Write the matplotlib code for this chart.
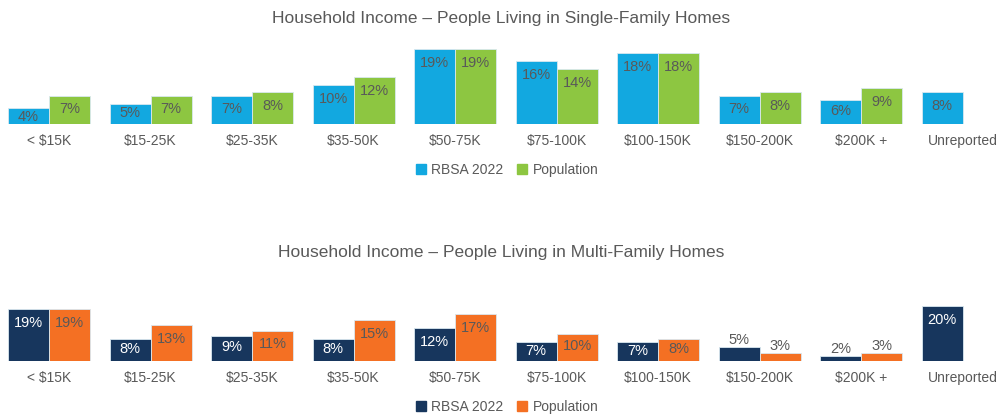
import matplotlib.pyplot as plt
import numpy as np
from matplotlib.patches import Patch

plt.rcParams['font.family'] = ['Liberation Sans', 'DejaVu Sans']

categories = ["< $15K", "$15-25K", "$25-35K", "$35-50K", "$50-75K", "$75-100K",
              "$100-150K", "$150-200K", "$200K +", "Unreported"]
sf_rbsa = [4, 5, 7, 10, 19, 16, 18, 7, 6, 8]
sf_pop = [7, 7, 8, 12, 19, 14, 18, 8, 9, None]
mf_rbsa = [19, 8, 9, 8, 12, 7, 7, 5, 2, 20]
mf_pop = [19, 13, 11, 15, 17, 10, 8, 3, 3, None]

W, H = 1002, 417
fig = plt.figure(figsize=(W / 100, H / 100), dpi=100)
grey = "#595959"
x = np.arange(len(categories))
w = 0.404


def draw(ax, rbsa, pop, c1, c2, lab1, lab2, ppx, small_above):
    for vals, off, col, tcol in [(rbsa, -w / 2, c1, lab1), (pop, w / 2, c2, lab2)]:
        for xi, v in zip(x, vals):
            if v is None:
                continue
            ax.bar(xi + off, v, w, color=col, edgecolor="#d9e8f0", linewidth=0.6)
            h = v * ppx
            if small_above and v < 6:
                ax.annotate(f"{v}%", (xi + off, v), xytext=(0, 7 * 0.72),
                            textcoords="offset points", ha="center", va="center",
                            fontsize=10.5, color=grey, annotation_clip=False)
            else:
                d = min(14, max(9, 0.45 * h))
                ax.annotate(f"{v}%", (xi + off, v), xytext=(0, -d * 0.72),
                            textcoords="offset points", ha="center", va="center",
                            fontsize=10.5, color=tcol, annotation_clip=False)
    ax.set_xlim(-0.483, 9.389)
    ax.set_xticks(x)
    ax.set_xticklabels(categories, fontsize=10, color=grey)
    ax.tick_params(length=0, pad=7)
    ax.set_yticks([])
    for s in ax.spines.values():
        s.set_visible(False)
    ax.patch.set_alpha(0)


ax1 = fig.add_axes([0, (H - 124) / H, 1, 75 / H])
ax1.set_ylim(0, 19)
draw(ax1, sf_rbsa, sf_pop, "#12a8e0", "#8dc641", grey, grey, 75 / 19, False)

ppx2 = 52 / 19
ax2 = fig.add_axes([0, (H - 361) / H, 1, 20 * ppx2 / H])
ax2.set_ylim(0, 20)
draw(ax2, mf_rbsa, mf_pop, "#17365d", "#f47023", "white", grey, ppx2, True)

fig.text(0.5, 1 - 18 / H, "Household Income \u2013 People Living in Single-Family Homes",
         ha="center", va="center", fontsize=12.5, color=grey)
fig.text(0.5, 1 - 253 / H, "Household Income \u2013 People Living in Multi-Family Homes",
         ha="center", va="center", fontsize=12.5, color=grey)

for y, c1, c2 in [(170, "#12a8e0", "#8dc641"), (407, "#17365d", "#f47023")]:
    fig.legend(handles=[Patch(color=c1, label="RBSA 2022"), Patch(color=c2, label="Population")],
               loc="center", bbox_to_anchor=(507 / W, 1 - y / H), ncol=2, frameon=False,
               handlelength=0.7, handleheight=0.7, columnspacing=1.0, handletextpad=0.4,
               fontsize=10, labelcolor=grey)

fig.savefig("out.png", dpi=100)
